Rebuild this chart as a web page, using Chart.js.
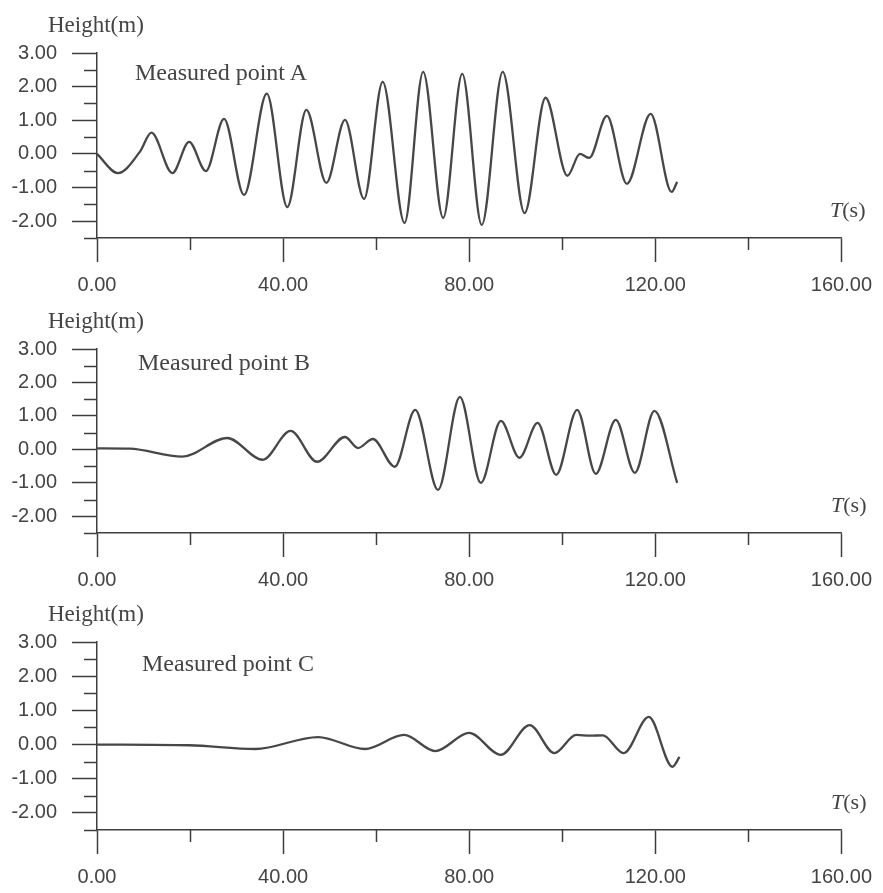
<!DOCTYPE html>
<html><head><meta charset="utf-8">
<script src="https://cdn.jsdelivr.net/npm/chart.js@4.4.1/dist/chart.umd.min.js"></script>
<style>
html,body{margin:0;padding:0;background:#fff;}
#wrap{position:relative;width:883px;height:893px;overflow:hidden;background:#fff;}
canvas{position:absolute;left:0;}
.t{position:absolute;font-family:'Liberation Serif','Times New Roman',serif;color:#444;white-space:nowrap;line-height:1;}
</style></head><body>
<div id="wrap">
<canvas id="cA" width="883" height="320" style="top:0px"></canvas>
<canvas id="cB" width="883" height="320" style="top:295px"></canvas>
<canvas id="cC" width="883" height="303" style="top:590px"></canvas>
<div class="t" style="left:48px;top:13px;font-size:23px">Height(m)</div>
<div class="t" style="left:48px;top:309px;font-size:23px">Height(m)</div>
<div class="t" style="left:48px;top:602px;font-size:23px">Height(m)</div>
<div class="t" style="left:135px;top:60px;font-size:24px">Measured point A</div>
<div class="t" style="left:138px;top:350px;font-size:24px">Measured point B</div>
<div class="t" style="left:142px;top:651px;font-size:24px">Measured point C</div>
<div class="t" style="left:830px;top:199px;font-size:22px"><i>T</i>(s)</div>
<div class="t" style="left:831px;top:494px;font-size:22px"><i>T</i>(s)</div>
<div class="t" style="left:831px;top:791px;font-size:22px"><i>T</i>(s)</div>
</div>
<script>
// ---- data ----
const timeA   = [0, 4.5, 9.2, 11.7, 16.2, 19.8, 23.4, 27.3, 31.6, 36.5, 40.9, 45.0, 49.3, 53.3, 57.4, 61.4, 66.1, 70.1, 74.4, 78.5, 82.7, 87.2, 91.9, 96.4, 101.1, 103.8, 105.8, 109.6, 113.9, 119.0, 123.5, 124.7];
const heightA = [0.0, -0.57, 0.06, 0.63, -0.57, 0.36, -0.51, 1.04, -1.22, 1.79, -1.58, 1.31, -0.86, 1.01, -1.34, 2.14, -2.05, 2.44, -1.90, 2.38, -2.11, 2.44, -1.76, 1.67, -0.65, 0.0, -0.12, 1.13, -0.89, 1.19, -1.13, -0.83];

const timeB   = [0, 7, 18.3, 28.0, 35.6, 41.6, 47.3, 53.3, 56.1, 59.3, 64.0, 68.4, 73.3, 78.0, 82.5, 86.8, 90.8, 94.7, 98.7, 103.2, 107.2, 111.5, 115.6, 119.8, 124.7];
const heightB = [0.03, 0.02, -0.22, 0.34, -0.31, 0.55, -0.37, 0.37, 0.04, 0.31, -0.52, 1.18, -1.21, 1.57, -1.00, 0.85, -0.25, 0.79, -0.76, 1.18, -0.73, 0.88, -0.70, 1.15, -1.00];

const timeC   = [0, 19.8, 34.0, 47.5, 57.6, 66.0, 72.7, 80.0, 86.8, 93.0, 98.3, 103.0, 106.0, 108.7, 113.2, 118.6, 123.7, 125.2];
const heightC = [0.0, -0.02, -0.13, 0.22, -0.13, 0.28, -0.19, 0.34, -0.30, 0.57, -0.25, 0.28, 0.26, 0.27, -0.25, 0.81, -0.65, -0.36];

const X_MAJOR_TICKS = [0, 40, 80, 120, 160];
const X_MINOR_TICKS = [20, 60, 100, 140];
const Y_MAJOR_TICKS = [-2, -1, 0, 1, 2, 3];
const Y_MINOR_TICKS = [-2.5, -1.5, -0.5, 0.5, 1.5, 2.5];
const X_MIN = 0, X_MAX = 160, Y_MIN = -2.5, Y_MAX = 3;

// ---- styling / layout ----
const AX = '#3e3e3e';
const TXT = '#444';
const LINE = '#474747';

const near = (v, arr) => arr.some(a => Math.abs(a - v) < 1e-9);

const minorTicks = {
  id: 'minorTicks',
  afterDraw(chart) {
    const {ctx, scales: {x, y}, chartArea: a} = chart;
    ctx.save();
    ctx.strokeStyle = AX;
    ctx.lineWidth = 1.5;
    ctx.beginPath();
    Y_MINOR_TICKS.forEach(v => { const py = Math.round(y.getPixelForValue(v)) + 0.5; ctx.moveTo(a.left - 13, py); ctx.lineTo(a.left, py); });
    X_MINOR_TICKS.forEach(v => { const px = Math.round(x.getPixelForValue(v)) + 0.5; ctx.moveTo(px, a.bottom); ctx.lineTo(px, a.bottom + 12); });
    ctx.stroke();
    ctx.restore();
  }
};

function makeChart(id, times, heights, g) {
  const data = times.map((t, i) => ({x: t, y: heights[i]}));
  return new Chart(document.getElementById(id), {
    type: 'line',
    data: { datasets: [{ data, borderColor: LINE, borderWidth: 2.3, pointRadius: 0, fill: false, cubicInterpolationMode: 'monotone' }] },
    options: {
      responsive: false, animation: false, devicePixelRatio: 1,
      layout: { padding: { top: g.padTop, left: 0, right: 36, bottom: 0 } },
      plugins: { legend: { display: false }, tooltip: { enabled: false } },
      scales: {
        x: {
          type: 'linear', min: X_MIN, max: X_MAX,
          afterFit: s => { s.height = g.axisH; },
          border: { display: true, color: AX, width: 1.5 },
          grid: { display: true, drawOnChartArea: false, drawTicks: true, tickLength: 24, tickWidth: 1.5,
                  tickColor: c => near(c.tick.value, X_MAJOR_TICKS) ? AX : 'rgba(0,0,0,0)' },
          ticks: { stepSize: 20, autoSkip: false, maxRotation: 0, padding: 11, color: TXT,
                   font: { family: "'Liberation Sans', Arial, sans-serif", size: 20 },
                   callback: v => near(v, X_MAJOR_TICKS) ? Number(v).toFixed(2) : '' }
        },
        y: {
          type: 'linear', min: Y_MIN, max: Y_MAX,
          afterFit: s => { s.width = 97; },
          border: { display: true, color: AX, width: 1.5 },
          grid: { display: true, drawOnChartArea: false, drawTicks: true, tickLength: 25, tickWidth: 1.5,
                  tickColor: c => near(c.tick.value, Y_MAJOR_TICKS) ? AX : 'rgba(0,0,0,0)' },
          ticks: { stepSize: 0.5, autoSkip: false, padding: 15, color: TXT,
                   font: { family: "'Liberation Sans', Arial, sans-serif", size: 20 },
                   callback: v => near(v, Y_MAJOR_TICKS) ? Number(v).toFixed(2) : '' }
        }
      }
    },
    plugins: [minorTicks]
  });
}

makeChart('cA', timeA, heightA, { padTop: 53, axisH: 320 - 53 - 185 });
makeChart('cB', timeB, heightB, { padTop: 54, axisH: 320 - 54 - 184 });
makeChart('cC', timeC, heightC, { padTop: 52, axisH: 303 - 52 - 188 });
</script>
</body></html>
